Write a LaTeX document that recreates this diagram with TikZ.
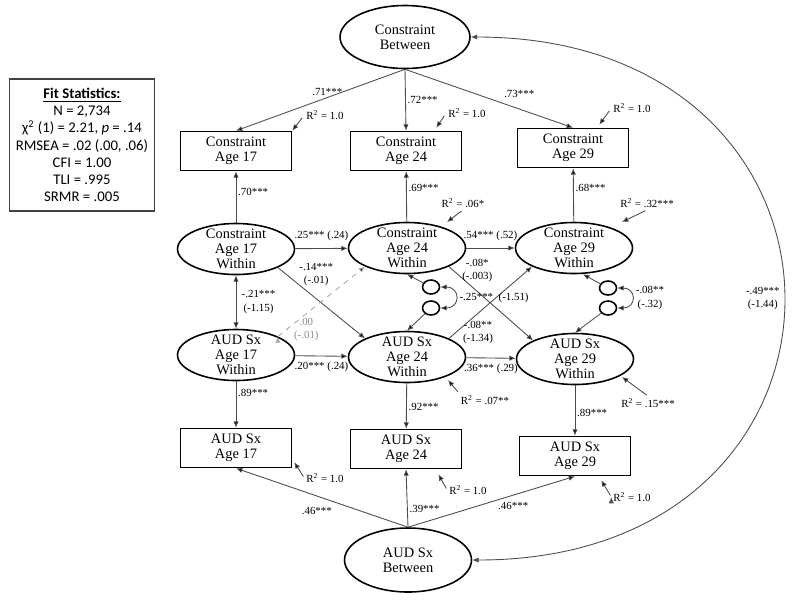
\documentclass[tikz,border=0pt]{standalone}
\usepackage{fontspec}
\setmainfont{Liberation Serif}
\newfontfamily\fitfont{Carlito}
\usetikzlibrary{arrows.meta,shapes.geometric,calc}

\begin{document}
\begin{tikzpicture}[->,>={Latex[length=3.6pt,width=3pt]},x=0.02cm,y=-0.02cm,
                    conn/.style={draw=black!70,line width=.5pt},
                    lbl/.style={font=\fontsize{6.2}{7.5}\selectfont,inner sep=1pt,align=center},
                    latent/.style={ellipse,draw=black,line width=.9pt,inner xsep=0pt,inner ysep=-2.5pt,
                                   minimum width=2.34cm,minimum height=1.02cm,align=center,
                                   font=\fontsize{8.2}{8.6}\selectfont},
                    manifest/.style={rectangle,draw=black,line width=.9pt,inner sep=0pt,
                                     minimum width=2.22cm,minimum height=0.78cm,align=center,
                                     font=\fontsize{8.2}{8.6}\selectfont}]
  \tikzstyle{resid}=[ellipse,draw=black,line width=.9pt,inner sep=0pt,
                     minimum width=0.34cm,minimum height=0.28cm]
  \useasboundingbox (0,0) rectangle (800,599);

  % fit box
  \node[draw=black!75,line width=.8pt,minimum width=2.9cm,minimum height=2.64cm,
        align=center,font=\fitfont\fontsize{8.4}{9.8}\selectfont] (fit) at (82,145)
       {\underline{\textbf{Fit Statistics:}}\\N = 2,734\\
        χ\textsuperscript{2} (1) = 2.21, \textit{p} = .14\\RMSEA = .02 (.00, .06)\\
        CFI = 1.00\\TLI = .995\\SRMR = .005};

  % between factors
  \node[latent,minimum width=2.6cm,minimum height=1.26cm]  (cb) at (405,37)  {Constraint\\Between};
  \node[latent,minimum width=2.54cm,minimum height=1.28cm] (ab) at (408,560) {AUD Sx\\Between};

  % observed
  \node[manifest] (c17) at (236,151) {Constraint\\Age 17};
  \node[manifest] (c24) at (406,151) {Constraint\\Age 24};
  \node[manifest] (c29) at (573,148) {Constraint\\Age 29};
  \node[manifest] (a17) at (236,448) {AUD Sx\\Age 17};
  \node[manifest] (a24) at (406,449) {AUD Sx\\Age 24};
  \node[manifest] (a29) at (575,456) {AUD Sx\\Age 29};

  % within factors
  \node[latent] (c17w) at (236,249) {Constraint\\Age 17\\Within};
  \node[latent] (c24w) at (407,248) {Constraint\\Age 24\\Within};
  \node[latent] (c29w) at (574,248) {Constraint\\Age 29\\Within};
  \node[latent] (a17w) at (236,355) {AUD Sx\\Age 17\\Within};
  \node[latent] (a24w) at (407,357) {AUD Sx\\Age 24\\Within};
  \node[latent] (a29w) at (575,359) {AUD Sx\\Age 29\\Within};

  % residuals
  \node[resid] (d24c) at (431,287) {};
  \node[resid] (d24a) at (431,308) {};
  \node[resid] (d29c) at (608,288) {};
  \node[resid] (d29a) at (608,308) {};

  % R-squared labels
  \node[lbl] (rc17)  at (325,115) {R\textsuperscript{2} = 1.0};
  \node[lbl] (rc24)  at (467,113) {R\textsuperscript{2} = 1.0};
  \node[lbl] (rc29)  at (632,108) {R\textsuperscript{2} = 1.0};
  \node[lbl] (rc24w) at (463,203) {R\textsuperscript{2} = .06*};
  \node[lbl] (rc29w) at (647,203) {R\textsuperscript{2} = .32***};
  \node[lbl] (ra24w) at (485,400) {R\textsuperscript{2} = .07**};
  \node[lbl] (ra29w) at (648,403) {R\textsuperscript{2} = .15***};
  \node[lbl] (ra17)  at (325,478) {R\textsuperscript{2} = 1.0};
  \node[lbl] (ra24)  at (468,490) {R\textsuperscript{2} = 1.0};
  \node[lbl] (ra29)  at (632,497) {R\textsuperscript{2} = 1.0};

  \path[conn]
    (cb.south) edge node[lbl,pos=.46,above]       {.71***} (c17.north)
    (cb.south) edge node[lbl,pos=.5,right]        {.72***} (c24.north)
    (cb.south) edge node[lbl,pos=.68,above=5pt]   {.73***} (c29.north)
    (c17w) edge node[lbl,pos=.59,right] {.70***} (c17)
    (c24w) edge node[lbl,pos=.66,right] {.69***} (c24)
    (c29w) edge node[lbl,pos=.63,right] {.68***} (c29)
    (a17w) edge node[lbl,pos=.26,right] {.89***} (a17)
    (a24w) edge node[lbl,pos=.52,right] {.92***} (a24)
    (a29w) edge node[lbl,pos=.55,right] {.89***} (a29)
    (ab.north) edge node[lbl,pos=.53,below=5pt] {.46***} (a17.south)
    (ab.north) edge node[lbl,pos=.31,right]     {.39***} (a24.south)
    (ab.north) edge node[lbl,pos=.63,below=3pt] {.46***} (a29.south)
    (c17w) edge node[lbl,above=3pt] {.25*** (.24)} (c24w)
    (c24w) edge node[lbl,above=3pt] {.54*** (.52)} (c29w)
    (a17w) edge node[lbl,below=2pt] {.20*** (.24)} (a24w)
    (a24w) edge node[lbl,below=2pt] {.36*** (.29)} (a29w)
    (c17w.south east) edge node[lbl,pos=.1,right=6pt]  {-.14***\\(-.01)} (a24w.north west)
    (c24w.south east) edge node[lbl,pos=.05,right=4pt] {-.08*\\(-.003)}  (a29w.north west)
    (a24w.north east) edge node[lbl,pos=.08,right=3pt] {-.08**\\(-1.34)} (c29w.south west)
    (c17w) edge[<->] node[lbl,right=2pt] {-.21***\\(-1.15)} (a17w)
    (d24c) edge (c24w.south)
    (d24a) edge (a24w.north)
    (d29c) edge ($(c29w.south)+(9,0)$)
    (d29a) edge (a29w.north)
    (d24c.east) edge[<->,out=0,in=0,looseness=2.5] node[lbl,right=1pt] {-.25***\enspace(-1.51)} (d24a.east)
    (d29c.east) edge[<->,out=0,in=0,looseness=2.5] node[lbl,right=1pt] {-.08**\\(-.32)} (d29a.east)
    (rc17.west)  edge[shorten <=2pt] (c17.north east)
    (rc24.west)  edge[shorten <=2pt] ($(c24.north east)+(-26,-3)$)
    (rc29.west)  edge[shorten <=2pt] ($(c29.north east)+(-30,-3)$)
    (rc24w.south) edge[shorten <=1pt] ($(c24w)+(40,-26)$)
    (rc29w.south) edge[shorten <=1pt] ($(c29w)+(48,-26)$)
    (ra24w.north west) edge[shorten <=1pt] ($(a24w)+(41,23)$)
    (ra29w.north) edge[shorten <=1pt] ($(a29w)+(47,18)$)
    (ra17.west) edge[shorten <=1pt] ($(a17.south east)+(2,-6)$)
    (ra24.west) edge[shorten <=1pt] ($(a24.south east)+(-24,5)$)
    (ra29.west) edge[shorten <=1pt] ($(a29.south east)+(-30,4)$);

  % non-significant cross path
  \path[conn,draw=black!35,dashed] (a17w.north east) edge
    node[lbl,pos=.1,right=3pt,text=black!45] {.00\\(-.01)} (c24w.south west);

  % between covariance
  \draw[conn,<->] (cb.east) .. controls +(416,0) and +(416,0) .. (ab.east)
    node[lbl,pos=.5,left=1pt] {-.49***\\(-1.44)};

\end{tikzpicture}
\end{document}
